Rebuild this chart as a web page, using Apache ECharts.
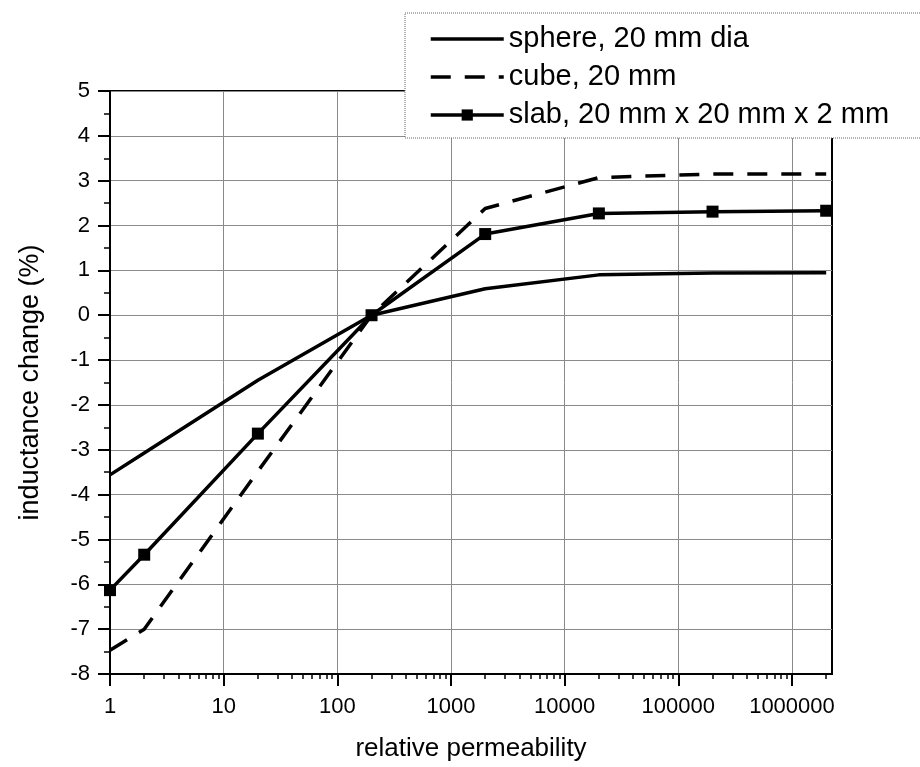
<!DOCTYPE html>
<html>
<head>
<meta charset="utf-8">
<script src="https://cdn.jsdelivr.net/npm/echarts@6/dist/echarts.min.js"></script>
<style>
  html, body { margin: 0; padding: 0; background: #fff; }
  #chart { width: 920px; height: 767px; }
</style>
</head>
<body>
<div id="chart"></div>
<script>
// relative permeability values (x) and inductance change in % (y)
var permeability = [1, 2, 20, 200, 2000, 20000, 200000, 2000000];
var sphere = [-3.56, -3.07, -1.45, 0, 0.59, 0.9, 0.94, 0.95];
var cube = [-7.47, -7.0, -3.48, 0, 2.38, 3.07, 3.15, 3.15];
var slab = [-6.13, -5.34, -2.64, 0, 1.81, 2.27, 2.31, 2.33];

var decadeTicks = [1, 10, 100, 1000, 10000, 100000, 1000000];
var minorSteps = [2, 3, 4, 5, 6, 7, 8, 9];

var minorTicks = [];
decadeTicks.forEach(function (d) {
  minorSteps.forEach(function (m) {
    if (d * m <= 2250000) minorTicks.push(d * m);
  });
});

function pairs(ys) {
  return permeability.map(function (x, i) { return [x, ys[i]]; });
}

var font = "'Liberation Sans', Arial, sans-serif";
var chart = echarts.init(document.getElementById('chart'));

var option = {
  animation: false,
  backgroundColor: '#fff',
  textStyle: { fontFamily: font },
  grid: {
    left: 110, right: 88, top: 91, bottom: 89,
    show: true, borderColor: '#000', borderWidth: 2
  },
  graphic: [{
    type: 'rect',
    z: 100,
    shape: { x: 405, y: 13, width: 530, height: 125 },
    style: { fill: '#fff', stroke: '#666', lineWidth: 1, lineDash: [1, 1] }
  }],
  legend: {
    z: 110,
    orient: 'vertical',
    left: 429, top: 24,
    padding: 0,
    itemWidth: 73, itemHeight: 14, itemGap: 8,
    lineStyle: { width: 3.5 },
    textStyle: { fontSize: 29, color: '#000', fontFamily: font, lineHeight: 30 },
    data: [
      { name: 'sphere, 20 mm dia', itemStyle: { opacity: 0 } },
      { name: 'cube, 20 mm', itemStyle: { opacity: 0 } },
      'slab, 20 mm x 20 mm x 2 mm'
    ]
  },
  xAxis: [{
    type: 'log', logBase: 10, min: 1, max: 2250000,
    name: 'relative permeability', nameLocation: 'middle', nameGap: 62,
    nameTextStyle: { fontSize: 26, color: '#000', fontFamily: font },
    axisLine: { onZero: false, lineStyle: { color: '#000', width: 2 } },
    axisTick: { customValues: decadeTicks, length: 12, lineStyle: { color: '#000', width: 2 } },
    axisLabel: {
      customValues: decadeTicks, margin: 22, fontSize: 22, color: '#000',
      formatter: function (v) { return String(Math.round(v)); }
    },
    splitLine: { show: true, lineStyle: { color: '#8a8a8a', width: 1 } }
  }, {
    type: 'log', logBase: 10, min: 1, max: 2250000, position: 'bottom',
    axisLine: { show: false, onZero: false },
    axisTick: { customValues: minorTicks, length: 5, lineStyle: { color: '#000', width: 1.5 } },
    axisLabel: { show: false },
    splitLine: { show: false }
  }],
  yAxis: {
    type: 'value', min: -8, max: 5, interval: 1,
    name: 'inductance change (%)', nameLocation: 'middle', nameGap: 66,
    nameTextStyle: { fontSize: 27, color: '#000', fontFamily: font },
    axisLine: { show: true, lineStyle: { color: '#000', width: 2 } },
    axisTick: { length: 12, lineStyle: { color: '#000', width: 2 } },
    minorTick: { show: true, splitNumber: 2, length: 6, lineStyle: { color: '#000', width: 1.5 } },
    axisLabel: { margin: 20, fontSize: 22, color: '#000' },
    splitLine: { show: true, lineStyle: { color: '#8a8a8a', width: 1 } }
  },
  series: [{
    name: 'sphere, 20 mm dia',
    type: 'line',
    symbol: 'none',
    lineStyle: { color: '#000', width: 3.5 },
    itemStyle: { color: '#000' },
    data: pairs(sphere)
  }, {
    name: 'cube, 20 mm',
    type: 'line',
    symbol: 'none',
    lineStyle: { color: '#000', width: 3.5, type: [20, 14] },
    itemStyle: { color: '#000' },
    data: pairs(cube)
  }, {
    name: 'slab, 20 mm x 20 mm x 2 mm',
    type: 'line',
    symbol: 'rect',
    symbolSize: 12,
    lineStyle: { color: '#000', width: 3.5 },
    itemStyle: { color: '#000' },
    data: pairs(slab)
  }]
};

chart.setOption(option);
</script>
</body>
</html>
